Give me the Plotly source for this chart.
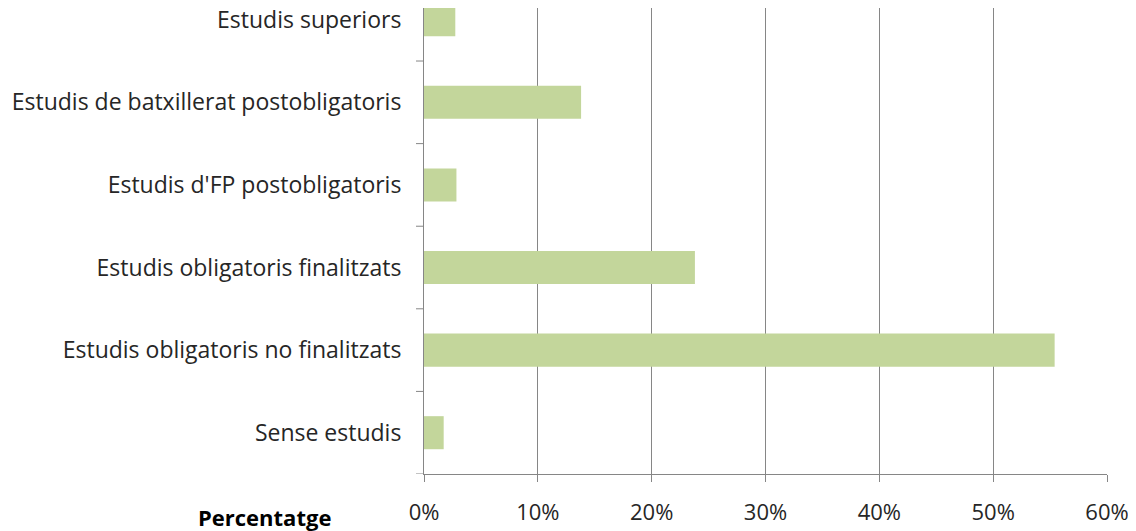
import plotly.graph_objects as go

categories = ["Sense estudis", "Estudis obligatoris no finalitzats", "Estudis obligatoris finalitzats",
              "Estudis d'FP postobligatoris", "Estudis de batxillerat postobligatoris", "Estudis superiors"]
values = [0.0173, 0.554, 0.238, 0.0285, 0.138, 0.0275]
x_ticks = [0, 0.1, 0.2, 0.3, 0.4, 0.5, 0.6]

grey = "#868686"
fnt = "'Open Sans', sans-serif"

fig = go.Figure(go.Bar(x=values, y=list(range(len(categories))), orientation="h",
                       marker=dict(color="#c3d69b", line=dict(width=0)), width=0.4))

# page body has an 8px margin, so figure is a bit smaller than the window
fig.update_layout(
    width=1128, height=523,
    margin=dict(l=416, r=29, t=0, b=57),
    plot_bgcolor="white", paper_bgcolor="white",
    showlegend=False,
    font=dict(family=fnt, size=23, color="#262626"),
)
fig.update_xaxes(range=[0, 0.6], tickvals=x_ticks, tickformat=".0%",
                 showgrid=True, gridcolor=grey, gridwidth=1,
                 showline=True, linecolor=grey, linewidth=1,
                 ticks="outside", ticklen=7, tickcolor=grey,
                 tickfont=dict(size=22), ticklabeloverflow="allow",
                 ticklabelstandoff=12, zeroline=False, automargin=False)
fig.update_yaxes(range=[-0.5, 5.142], tickvals=list(range(len(categories))), ticktext=categories,
                 showgrid=False, showline=True, linecolor=grey, linewidth=1,
                 ticks="", ticklabelstandoff=17, ticklabeloverflow="allow",
                 zeroline=False, automargin=False)

# tick marks between categories on y axis
for b in [-0.5, 0.5, 1.5, 2.5, 3.5, 4.5]:
    fig.add_shape(type="line", xref="paper", yref="y", x0=-0.0117, x1=0, y0=b, y1=b,
                  line=dict(color=grey, width=1))

fig.add_annotation(text="<b>Percentatge</b>", xref="paper", yref="paper",
                   x=-0.1332, y=-0.0923, xanchor="right", yanchor="middle", showarrow=False,
                   font=dict(family=fnt, size=22, color="#000000"))

fig.write_html("out.html")
